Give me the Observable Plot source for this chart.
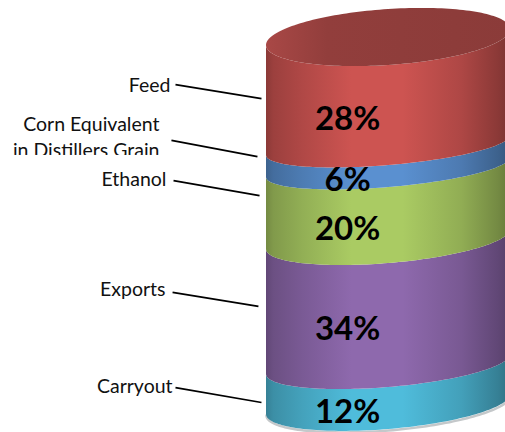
<!DOCTYPE html>
<html>
<head>
<meta charset="utf-8">
<script src="https://cdn.jsdelivr.net/npm/d3@7"></script>
<script src="https://cdn.jsdelivr.net/npm/@observablehq/plot@0.6"></script>
<style>
html,body{margin:0;padding:0;background:#fff;overflow:hidden}
svg{display:block}
</style>
</head>
<body>
<div id="chart"></div>
<script>
// Bottom-to-top order of the stack
const categories = ["Carryout", "Exports", "Ethanol", "Corn Equivalent\nin Distillers Grain", "Feed"];
const percents = [12, 34, 20, 6, 28];
// Drawn height of each band (the drawing is not exactly proportional)
const bandHeights = [10.84, 33.87, 19.5, 5.96, 29.83];
const bandColors = ["#4fbcdb", "#8e69ad", "#aacb63", "#5a90d0", "#cd5451"];
const topColor = "#8f3d3b";
// Annotation anchors
const labelX = [-1.77, -1.828, -1.82, -1.877, -1.787];
const labelY = [7.6, 33.9, 63.7, 75.1, 89.2];
const leaderX1 = [-1.746, -1.77, -1.762, -1.779, -1.746];
const leaderX2 = [-1.041, -1.066, -1.057, -1.074, -1.041];
const leaderY1 = [7.3, 33.1, 63.4, 74.3, 89.4];
const leaderY2 = [3.25, 29.3, 59.3, 69.9, 85.6];
const valueX = -0.335;
// How far each band's lower rim bows forward
const rimSags = [25, 23, 24, 20, 20];

const pxPerUnit = 3.69;
const tilt = 10 / pxPerUnit;
const topTilt = 8 / pxPerUnit;
const topSag = 28 / pxPerUnit;

const levels = d3.cumsum(bandHeights);
const bases = [0, ...levels.slice(0, -1)];
const angles = d3.range(0, 181, 2).map(d => d * Math.PI / 180);

const front = (v, a, t, s) => v + t * (1 + Math.cos(a)) - s * Math.sin(a);
const back = (v, a, t, s) => v + t * (1 + Math.cos(a)) + s * Math.sin(a);
const lower = (i, a) => front(bases[i], a, tilt, rimSags[i] / pxPerUnit);
const upper = (i, a) => i === 4 ? front(levels[i], a, topTilt, topSag) : lower(i + 1, a);

const bands = categories.map((c, i) => angles.map(a => ({
  x: Math.cos(a),
  y1: lower(i, a),
  y2: upper(i, a)
})));
const lid = angles.map(a => ({
  x: Math.cos(a),
  y1: front(100, a, topTilt, topSag),
  y2: back(100, a, topTilt, topSag)
}));

const shade = [[0, .68], [.03, .76], [.15, .86], [.35, 1], [.56, 1], [.8, .85], [.95, .68], [1, .6]];
const lidShade = [[0, 1.18], [.25, 1.02], [.55, 1], [1, .97]];

function gradient(defs, id, color, stops) {
  const g = defs.append("linearGradient").attr("id", id);
  for (const [o, k] of stops) {
    const c = d3.rgb(color);
    g.append("stop").attr("offset", o)
      .attr("stop-color", d3.rgb(c.r * k, c.g * k, c.b * k).formatHex());
  }
}
const defsMark = () => {
  const defs = d3.create("svg:defs");
  bandColors.forEach((c, i) => gradient(defs, "band" + i, c, shade));
  gradient(defs, "lid", topColor, lidShade);
  return defs.node();
};

const rows = categories.map((c, i) => ({
  c, p: percents[i] + "%",
  lx: labelX[i], ly: labelY[i],
  x1: leaderX1[i], x2: leaderX2[i], y1: leaderY1[i], y2: leaderY2[i]
}));
const a0 = Math.acos(valueX);
const values = rows.map((r, i) => ({p: r.p, y: (lower(i, a0) + upper(i, a0)) / 2}));

const font = "Lato, Carlito, Calibri, sans-serif";
const chart = Plot.plot({
  width: 505, height: 432,
  marginTop: 0, marginRight: 0, marginBottom: 0, marginLeft: 0,
  x: {domain: [-1, 1], range: [266, 510], axis: null},
  y: {domain: [0, 100], range: [414, 45], axis: null},
  marks: [
    defsMark,
    Plot.line(bands[0], {x: "x", y: "y1", stroke: "#c4c8ca", strokeWidth: 2.5, dy: 1}),
    ...bands.map((b, i) => Plot.areaY(b, {x: "x", y1: "y1", y2: "y2", fill: `url(#band${i})`})),
    Plot.areaY(lid, {x: "x", y1: "y1", y2: "y2", fill: "url(#lid)"}),
    Plot.text(rows, {x: "lx", y: "ly", text: "c", dy: -2, textAnchor: "end", lineAnchor: "middle",
      fontFamily: font, fontSize: 19.5, lineHeight: 1.37, fill: "#111"}),
    // The ethanol label's white box cuts the bottom of the line above it
    Plot.rect([0], {x1: () => -3.2, x2: () => -1.5, y1: () => 70.2, y2: () => 66.1, fill: "white"}),
    Plot.link(rows, {x1: "x1", y1: "y1", x2: "x2", y2: "y2", stroke: "#000", strokeWidth: 1.7}),
    Plot.text(values, {x: () => valueX, y: "y", text: "p", dy: 2, fontFamily: font, fontWeight: 700,
      fontSize: 33, fill: "#000", lineAnchor: "middle"})
  ]
});
document.getElementById("chart").appendChild(chart);
</script>
</body>
</html>
